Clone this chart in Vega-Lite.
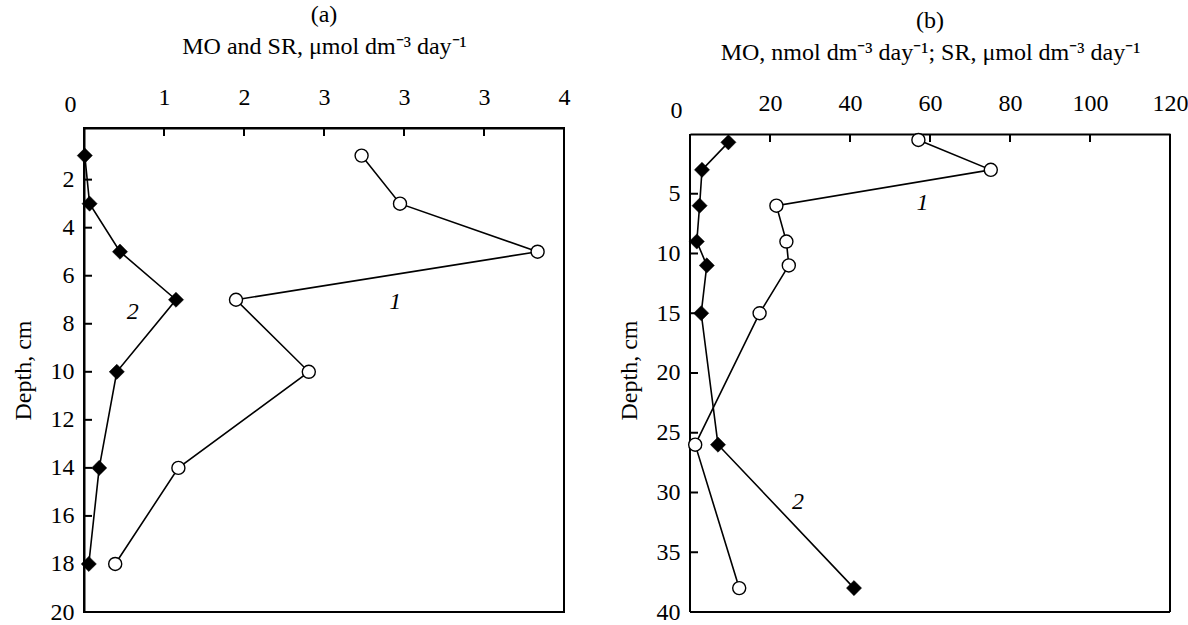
{
  "$schema": "https://vega.github.io/schema/vega-lite/v6.json",
  "background": "white",
  "padding": {"left": 10, "top": 2, "right": 0, "bottom": 0},
  "spacing": 126,
  "bounds": "flush",
  "config": {
    "font": "Liberation Serif",
    "view": {"stroke": "black", "strokeWidth": 2},
    "axis": {
      "labelFont": "Liberation Serif", "labelFontSize": 24, "labelColor": "black",
      "titleFont": "Liberation Serif", "titleFontSize": 24, "titleFontWeight": "normal", "titleColor": "black",
      "ticks": false,
      "domainColor": "black", "domainWidth": 2,
      "grid": false, "labelFlush": false, "labelOverlap": false
    },
    "title": {"font": "Liberation Serif", "fontSize": 24, "fontWeight": "normal", "color": "black"}
  },
  "datasets": {
    "a": [
      {"s": "1", "depth": 1, "v": 3.47},
      {"s": "1", "depth": 3, "v": 3.95},
      {"s": "1", "depth": 5, "v": 5.67},
      {"s": "1", "depth": 7, "v": 1.9},
      {"s": "1", "depth": 10, "v": 2.81},
      {"s": "1", "depth": 14, "v": 1.18},
      {"s": "1", "depth": 18, "v": 0.39},
      {"s": "2", "depth": 1, "v": 0.01},
      {"s": "2", "depth": 3, "v": 0.07},
      {"s": "2", "depth": 5, "v": 0.45},
      {"s": "2", "depth": 7, "v": 1.15},
      {"s": "2", "depth": 10, "v": 0.41},
      {"s": "2", "depth": 14, "v": 0.19},
      {"s": "2", "depth": 18, "v": 0.06}
    ],
    "b": [
      {"s": "1", "depth": 0.5, "v": 57.1},
      {"s": "1", "depth": 3, "v": 75.2},
      {"s": "1", "depth": 6, "v": 21.6},
      {"s": "1", "depth": 9, "v": 24.1},
      {"s": "1", "depth": 11, "v": 24.7},
      {"s": "1", "depth": 15, "v": 17.4},
      {"s": "1", "depth": 26, "v": 1.3},
      {"s": "1", "depth": 38, "v": 12.3},
      {"s": "2", "depth": 0.7, "v": 9.6},
      {"s": "2", "depth": 3, "v": 3.0},
      {"s": "2", "depth": 6, "v": 2.4},
      {"s": "2", "depth": 9, "v": 1.7},
      {"s": "2", "depth": 11, "v": 4.2},
      {"s": "2", "depth": 15, "v": 2.8},
      {"s": "2", "depth": 26, "v": 7.0},
      {"s": "2", "depth": 38, "v": 41.0}
    ],
    "alab": [
      {"t": "1", "depth": 7.1, "v": 3.89},
      {"t": "2", "depth": 7.5, "v": 0.61}
    ],
    "blab": [
      {"t": "1", "depth": 5.75, "v": 58.1},
      {"t": "2", "depth": 30.8, "v": 27}
    ],
    "aticks": [
      {"v": 1, "v2": 1, "depth": -0.15, "d2": 0.18},
      {"v": 2, "v2": 2, "depth": -0.15, "d2": 0.18},
      {"v": 3, "v2": 3, "depth": -0.15, "d2": 0.18},
      {"v": 4, "v2": 4, "depth": -0.15, "d2": 0.18},
      {"v": 5, "v2": 5, "depth": -0.15, "d2": 0.18},
      {"v": 0, "v2": 0.1, "depth": 2, "d2": 2},
      {"v": 0, "v2": 0.1, "depth": 4, "d2": 4},
      {"v": 0, "v2": 0.1, "depth": 6, "d2": 6},
      {"v": 0, "v2": 0.1, "depth": 8, "d2": 8},
      {"v": 0, "v2": 0.1, "depth": 10, "d2": 10},
      {"v": 0, "v2": 0.1, "depth": 12, "d2": 12},
      {"v": 0, "v2": 0.1, "depth": 14, "d2": 14},
      {"v": 0, "v2": 0.1, "depth": 16, "d2": 16},
      {"v": 0, "v2": 0.1, "depth": 18, "d2": 18}
    ],
    "bticks": [
      {"v": 20, "v2": 20, "depth": 0, "d2": 0.67},
      {"v": 40, "v2": 40, "depth": 0, "d2": 0.67},
      {"v": 60, "v2": 60, "depth": 0, "d2": 0.67},
      {"v": 80, "v2": 80, "depth": 0, "d2": 0.67},
      {"v": 100, "v2": 100, "depth": 0, "d2": 0.67},
      {"v": 0, "v2": 2, "depth": 5, "d2": 5},
      {"v": 0, "v2": 2, "depth": 10, "d2": 10},
      {"v": 0, "v2": 2, "depth": 15, "d2": 15},
      {"v": 0, "v2": 2, "depth": 20, "d2": 20},
      {"v": 0, "v2": 2, "depth": 25, "d2": 25},
      {"v": 0, "v2": 2, "depth": 30, "d2": 30},
      {"v": 0, "v2": 2, "depth": 35, "d2": 35}
    ],
    "bframe": [
      {"v": 0, "v2": 0, "depth": 0, "d2": 40},
      {"v": 120, "v2": 120, "depth": 0, "d2": 40},
      {"v": 0, "v2": 120, "depth": 40, "d2": 40}
    ]
  },
  "hconcat": [
    {
      "width": 480,
      "height": 484,
      "title": {"text": "(a)", "offset": 7},
      "encoding": {
        "x": {
          "field": "v", "type": "quantitative",
          "scale": {"domain": [0, 6], "nice": false, "zero": false},
          "axis": {
            "orient": "top", "values": [0, 1, 2, 3, 4, 5, 6],
            "labelExpr": "['0','1','2','3','3','3','4'][datum.value]",
            "labelPadding": {"condition": {"test": "datum.value === 0", "value": 12}, "value": 19},
            "labelOffset": {"condition": {"test": "datum.value === 0", "value": -14}, "value": 0},
            "title": "MO and SR, μmol dm⁻³ day⁻¹", "titlePadding": 27
          }
        },
        "y": {
          "field": "depth", "type": "quantitative",
          "scale": {"domain": [-0.15, 20], "nice": false, "zero": false, "reverse": true},
          "axis": {
            "values": [2, 4, 6, 8, 10, 12, 14, 16, 18, 20],
            "labelPadding": 10, "title": "Depth, cm", "titlePadding": 15
          }
        }
      },
      "layer": [
        {
          "data": {"name": "aticks"},
          "mark": {"type": "rule", "color": "black", "strokeWidth": 2},
          "encoding": {"x2": {"field": "v2"}, "y2": {"field": "d2"}}
        },
        {
          "data": {"name": "a"},
          "mark": {"type": "line", "color": "black", "strokeWidth": 1.6},
          "encoding": {"detail": {"field": "s"}, "order": {"field": "depth", "type": "quantitative"}}
        },
        {
          "data": {"name": "a"},
          "transform": [{"filter": "datum.s === '1'"}],
          "mark": {"type": "point", "shape": "circle", "filled": true, "fill": "white", "stroke": "black", "strokeWidth": 1.4, "size": 170, "opacity": 1}
        },
        {
          "data": {"name": "a"},
          "transform": [{"filter": "datum.s === '2'"}],
          "mark": {"type": "point", "shape": "diamond", "filled": true, "fill": "black", "stroke": "black", "strokeWidth": 0.5, "size": 230, "opacity": 1}
        },
        {
          "data": {"name": "alab"},
          "mark": {"type": "text", "font": "Liberation Serif", "fontStyle": "italic", "fontSize": 24, "color": "black"},
          "encoding": {"text": {"field": "t"}}
        }
      ]
    },
    {
      "width": 480,
      "height": 484,
      "view": {"stroke": null},
      "title": {"text": "(b)", "offset": 7},
      "encoding": {
        "x": {
          "field": "v", "type": "quantitative",
          "scale": {"domain": [0, 120], "nice": false, "zero": false},
          "axis": {
            "orient": "top", "values": [0, 20, 40, 60, 80, 100, 120], "offset": -6,
            "labelPadding": {"condition": {"test": "datum.value === 0", "value": 12}, "value": 19},
            "labelOffset": {"condition": {"test": "datum.value === 0", "value": -14}, "value": 0},
            "title": "MO, nmol dm⁻³ day⁻¹; SR, μmol dm⁻³ day⁻¹", "titlePadding": 27
          }
        },
        "y": {
          "field": "depth", "type": "quantitative",
          "scale": {"domain": [-0.5, 40], "nice": false, "zero": false, "reverse": true},
          "axis": {
            "values": [5, 10, 15, 20, 25, 30, 35, 40], "domain": false,
            "labelPadding": 10, "title": "Depth, cm", "titlePadding": 15
          }
        }
      },
      "layer": [
        {
          "data": {"name": "bframe"},
          "mark": {"type": "rule", "color": "black", "strokeWidth": 2},
          "encoding": {"x2": {"field": "v2"}, "y2": {"field": "d2"}}
        },
        {
          "data": {"name": "bticks"},
          "mark": {"type": "rule", "color": "black", "strokeWidth": 2},
          "encoding": {"x2": {"field": "v2"}, "y2": {"field": "d2"}}
        },
        {
          "data": {"name": "b"},
          "mark": {"type": "line", "color": "black", "strokeWidth": 1.6},
          "encoding": {"detail": {"field": "s"}, "order": {"field": "depth", "type": "quantitative"}}
        },
        {
          "data": {"name": "b"},
          "transform": [{"filter": "datum.s === '1'"}],
          "mark": {"type": "point", "shape": "circle", "filled": true, "fill": "white", "stroke": "black", "strokeWidth": 1.4, "size": 170, "opacity": 1}
        },
        {
          "data": {"name": "b"},
          "transform": [{"filter": "datum.s === '2'"}],
          "mark": {"type": "point", "shape": "diamond", "filled": true, "fill": "black", "stroke": "black", "strokeWidth": 0.5, "size": 230, "opacity": 1}
        },
        {
          "data": {"name": "blab"},
          "mark": {"type": "text", "font": "Liberation Serif", "fontStyle": "italic", "fontSize": 24, "color": "black"},
          "encoding": {"text": {"field": "t"}}
        }
      ]
    }
  ]
}
